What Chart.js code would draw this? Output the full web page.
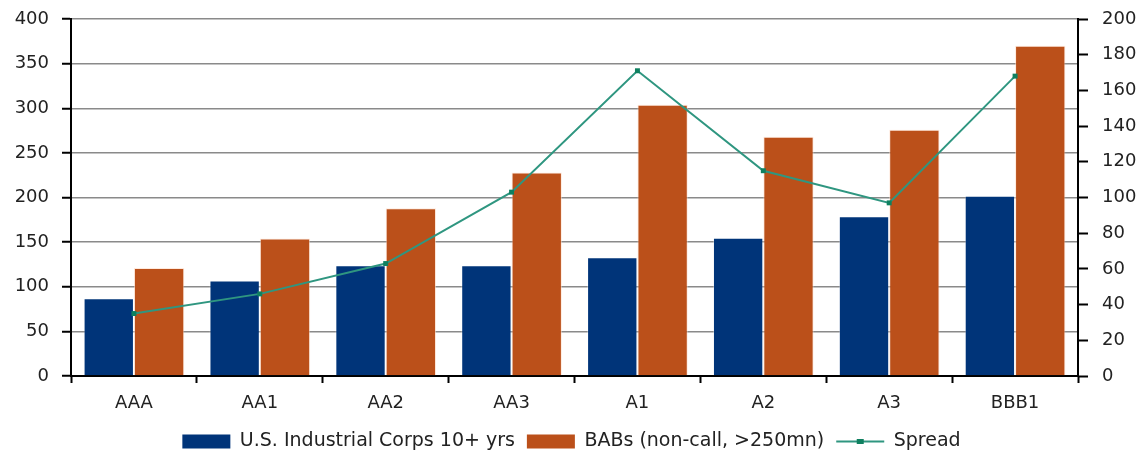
<!DOCTYPE html>
<html>
<head>
<meta charset="utf-8">
<script src="https://cdn.jsdelivr.net/npm/chart.js@4/dist/chart.umd.min.js"></script>
<style>
  html, body { margin: 0; padding: 0; background: #fff; }
  #wrap { width: 1143px; height: 451px; }
</style>
</head>
<body>
<div id="wrap"><canvas id="spreadChart" width="1143" height="451"></canvas></div>
<script>
const ratings = ['AAA', 'AA1', 'AA2', 'AA3', 'A1', 'A2', 'A3', 'BBB1'];
const corpsValues = [87, 107, 124, 124, 133, 155, 179, 202];
const babsValues = [121, 154, 188, 228, 304, 268, 276, 370];
const spreadValues = [35, 46, 63, 103, 171, 115, 97, 168];
const leftTicks = [0, 50, 100, 150, 200, 250, 300, 350, 400];
const rightTicks = [0, 20, 40, 60, 80, 100, 120, 140, 160, 180, 200];

const FONT = { family: '"DejaVu Sans", Arial, sans-serif', size: 18 };
const LEGEND_FONT = { family: '"DejaVu Sans", Arial, sans-serif', size: 19 };
const INK = '#222';

// small square in the middle of the legend line, like the source
const legendMarker = {
  id: 'legendMarker',
  afterDraw(chart) {
    const legend = chart.legend;
    if (!legend || !legend.legendItems) return;
    legend.legendItems.forEach((item, i) => {
      if (item.text !== 'Spread') return;
      const box = legend.legendHitBoxes[i];
      const ctx = chart.ctx;
      const cx = box.left + 48 / 2;
      const cy = box.top + box.height / 2;
      ctx.save();
      ctx.fillStyle = '#0f8060';
      ctx.fillRect(cx - 3.5, cy - 2.5, 7, 5);
      ctx.restore();
    });
  }
};

const ctx = document.getElementById('spreadChart').getContext('2d');

new Chart(ctx, {
  type: 'bar',
  data: {
    labels: ratings,
    datasets: [
      {
        label: 'U.S. Industrial Corps 10+ yrs',
        data: corpsValues,
        backgroundColor: '#003479',
        borderColor: 'rgba(255,255,255,0.35)',
        borderWidth: 1,
        yAxisID: 'y',
        order: 1
      },
      {
        label: 'BABs (non-call, >250mn)',
        data: babsValues,
        backgroundColor: '#bb501a',
        borderColor: 'rgba(255,220,200,0.6)',
        borderWidth: 1,
        yAxisID: 'y',
        order: 1
      },
      {
        type: 'line',
        label: 'Spread',
        data: spreadValues,
        borderColor: '#2f9680',
        backgroundColor: '#0f8060',
        borderWidth: 2,
        pointStyle: 'rect',
        pointRadius: 3.5,
        pointBorderWidth: 0,
        pointBackgroundColor: '#0f8060',
        tension: 0,
        yAxisID: 'y2',
        order: 0
      }
    ]
  },
  options: {
    responsive: false,
    animation: false,
    datasets: {
      bar: { categoryPercentage: 0.8, barPercentage: 1.0 }
    },
    layout: { padding: { top: 19, left: 0, right: 0, bottom: -10 } },
    plugins: {
      tooltip: { enabled: false },
      legend: {
        position: 'bottom',
        labels: {
          font: LEGEND_FONT,
          color: INK,
          usePointStyle: true,
          pointStyleWidth: 48,
          boxHeight: 14,
          padding: 12,
          sort: (a, b) => a.datasetIndex - b.datasetIndex,
          generateLabels(chart) {
            return chart.data.datasets.map((ds, i) => ({
              text: ds.label,
              datasetIndex: i,
              fillStyle: ds.type === 'line' ? ds.borderColor : ds.backgroundColor,
              strokeStyle: ds.type === 'line' ? ds.borderColor : ds.backgroundColor,
              lineWidth: ds.type === 'line' ? 2 : 0,
              pointStyle: ds.type === 'line' ? 'line' : 'rect',
              fontColor: INK,
              hidden: false
            }));
          }
        }
      }
    },
    scales: {
      x: {
        offset: true,
        grid: {
          display: true,
          offset: true,
          drawOnChartArea: false,
          drawTicks: true,
          tickLength: 7,
          tickColor: '#000',
          tickWidth: 2
        },
        border: { display: true, color: '#000', width: 2 },
        ticks: { font: FONT, color: INK, padding: 10, maxRotation: 0 },
        afterFit(scale) { scale.height = 44; }
      },
      y: {
        position: 'left',
        min: 0,
        max: 400,
        afterBuildTicks(scale) { scale.ticks = leftTicks.map(v => ({ value: v })); },
        grid: {
          color: '#8a8a8a',
          lineWidth: 1.5,
          tickLength: 9,
          tickColor: '#000',
          tickWidth: 2
        },
        border: { display: true, color: '#000', width: 2 },
        ticks: { font: FONT, color: INK, padding: 13 },
        afterFit(scale) {
          scale.width = 71;
          scale.paddingTop = 0;
          scale.paddingBottom = 0;
        }
      },
      y2: {
        position: 'right',
        min: 0,
        max: 200,
        afterBuildTicks(scale) { scale.ticks = rightTicks.map(v => ({ value: v })); },
        grid: {
          drawOnChartArea: false,
          tickLength: 10,
          tickColor: '#000',
          tickWidth: 2
        },
        border: { display: true, color: '#000', width: 2 },
        ticks: { font: FONT, color: INK, padding: 14 },
        afterFit(scale) {
          scale.width = 65;
          scale.paddingTop = 0;
          scale.paddingBottom = 0;
        }
      }
    }
  },
  plugins: [legendMarker]
});
</script>
</body>
</html>
